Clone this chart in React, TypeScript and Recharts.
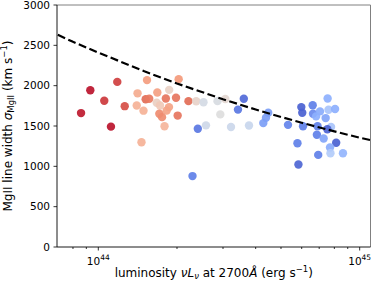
import React from 'react';
import {
  ScatterChart,
  Scatter,
  XAxis,
  YAxis,
  Cell,
  ReferenceLine,
} from 'recharts';

// luminosity nuL_nu at 2700A (erg/s) and MgII line width (km/s) for each object
const luminosity = [
  8.59e43, 9.32e43, 1.054e44, 1.118e44, 1.182e44, 1.262e44, 1.403e44, 1.413e44,
  1.463e44, 1.489e44, 1.536e44, 1.518e44, 1.566e44, 1.682e44, 1.673e44, 1.722e44,
  1.792e44, 1.813e44, 1.867e44, 1.827e44, 1.712e44, 1.753e44, 1.864e44, 2.012e44,
  2.03e44, 1.983e44, 2.213e44, 2.369e44, 2.526e44, 2.582e44, 2.403e44, 2.293e44,
  2.858e44, 3.061e44, 3.603e44, 3.423e44, 2.929e44, 3.219e44, 3.772e44, 4.467e44,
  4.381e44, 4.278e44, 5.318e44, 5.98e44, 6.03e44, 6.61e44, 6.63e44, 7.05e44,
  6.81e44, 7.54e44, 7.6e44, 8.05e44, 7.41e44, 6.07e44, 6.9e44, 7.77e44,
  7.52e44, 6.86e44, 7.28e44, 5.78e44, 8.13e44, 7.7e44, 8.63e44, 7.73e44,
  6.94e44, 5.83e44,
];

const sigma = [
  1660, 1943, 1813, 1492, 2047, 1746, 1755, 1905,
  1298, 1690, 2069, 1832, 1837, 1915, 1788, 1755,
  1496, 1841, 1948, 1693, 1652, 1610, 1734, 1629,
  2081, 1851, 1808, 1806, 1795, 1508, 1465, 879,
  1808, 1835, 1837, 1703, 1644, 1487, 1506, 1665,
  1603, 1536, 1514, 1734, 1665, 1758, 1652, 1681,
  1619, 1841, 1702, 1711, 1598, 1496, 1498, 1487,
  1459, 1391, 1345, 1286, 1292, 1233, 1163, 1163,
  1142, 1023,
];

// colour variable (0 = blue, 1 = red)
const colourValue = [
  0.97, 0.98, 0.93, 0.98, 0.92, 0.9, 0.68, 0.7,
  0.68, 0.68, 0.74, 0.85, 0.82, 0.73, 0.57, 0.6,
  0.67, 0.83, 0.56, 0.72, 0.78, 0.78, 0.72, 0.83,
  0.75, 0.83, 0.85, 0.55, 0.47, 0.45, 0.1, 0.12,
  0.48, 0.53, 0.07, 0.1, 0.5, 0.44, 0.43, 0.2,
  0.2, 0.2, 0.13, 0.05, 0.05, 0.12, 0.15, 0.24,
  0.25, 0.25, 0.33, 0.25, 0.22, 0.12, 0.12, 0.33,
  0.05, 0.12, 0.22, 0.12, 0.05, 0.24, 0.27, 0.36,
  0.12, 0.06,
];

// dashed relation
const relationL = [7e43, 8e43, 1e44, 1.5e44, 2e44, 3e44, 4e44, 5e44, 6e44, 8e44, 1e45, 1.1e45];
const relationSigma = [2630, 2544, 2410, 2178, 2027, 1831, 1704, 1612, 1540, 1433, 1355, 1325];

const xMajorTicks = [1e44, 1e45];
const xMinorTicks = [8e43, 9e43, 2e44, 3e44, 4e44, 5e44, 6e44, 7e44, 8e44, 9e44];
const yTicks = [0, 500, 1000, 1500, 2000, 2500, 3000];

const X_DOMAIN: [number, number] = [6.95e43, 1.1e45];

const FONT = '"DejaVu Sans", sans-serif';

const COOLWARM: [number, number, number][] = [
  [59, 76, 192],
  [98, 130, 234],
  [141, 176, 254],
  [184, 208, 249],
  [221, 221, 221],
  [245, 196, 173],
  [244, 154, 123],
  [222, 96, 77],
  [180, 4, 38],
];

function coolwarm(t: number) {
  const v = Math.max(0, Math.min(1, t)) * (COOLWARM.length - 1);
  const i = Math.min(Math.floor(v), COOLWARM.length - 2);
  const f = v - i;
  const a = COOLWARM[i];
  const b = COOLWARM[i + 1];
  const c = a.map((ch, k) => Math.round(ch + (b[k] - ch) * f));
  return `rgb(${c[0]},${c[1]},${c[2]})`;
}

const points = luminosity.map((x, i) => ({ x, y: sigma[i] }));
const relation = relationL.map((x, i) => ({ x, y: relationSigma[i] }));

const XTick = (props: any) => {
  const { x, y, payload } = props;
  const major = xMajorTicks.includes(payload.value);
  const exp = Math.round(Math.log10(payload.value));
  return (
    <g>
      <line x1={x} x2={x} y1={y} y2={y + (major ? 3.5 : 2)} stroke="#000" strokeWidth={0.8} />
      {major && (
        <text x={x} y={y + 17.5} textAnchor="middle" fontSize={10.5} fontFamily={FONT} fill="#000">
          <tspan>10</tspan>
          <tspan dy={-4.5} fontSize={7.5}>{exp}</tspan>
        </text>
      )}
    </g>
  );
};

const YTick = (props: any) => {
  const { x, y, payload } = props;
  return (
    <g>
      <line x1={x - 3.5} x2={x} y1={y} y2={y} stroke="#000" strokeWidth={0.8} />
      <text x={x - 7} y={y} dy={3.8} textAnchor="end" fontSize={10.5} fontFamily={FONT} fill="#000">
        {payload.value}
      </text>
    </g>
  );
};

const XLabel = (props: any) => {
  const vb = props.viewBox;
  const cx = vb.x + vb.width / 2;
  return (
    <text x={cx} y={276.5} textAnchor="middle" fontSize={12} fontFamily={FONT} fill="#000">
      <tspan>luminosity </tspan>
      <tspan fontStyle="italic">νL</tspan>
      <tspan dy={2.5} fontSize={8.5} fontStyle="italic">ν</tspan>
      <tspan dy={-2.5}> at 2700</tspan>
      <tspan fontStyle="italic">Å</tspan>
      <tspan> (erg s</tspan>
      <tspan dy={-5} fontSize={8.5}>−1</tspan>
      <tspan dy={5}>)</tspan>
    </text>
  );
};

const YLabel = (props: any) => {
  const vb = props.viewBox;
  const cy = vb.y + vb.height / 2;
  const lx = 11.5;
  return (
    <text
      x={lx}
      y={cy}
      transform={`rotate(-90, ${lx}, ${cy})`}
      textAnchor="middle"
      fontSize={12}
      fontFamily={FONT}
      fill="#000"
    >
      <tspan>MgII line width </tspan>
      <tspan fontStyle="italic">σ</tspan>
      <tspan dy={2.5} fontSize={8.5}>MgII</tspan>
      <tspan dy={-2.5}> (km s</tspan>
      <tspan dy={-5} fontSize={8.5}>−1</tspan>
      <tspan dy={5}>)</tspan>
    </text>
  );
};

export default function App() {
  return (
    <div style={{ position: 'absolute', left: 0, top: 0, width: 374, height: 288, background: '#fff' }}>
      <ScatterChart width={374} height={288} margin={{ top: 5, right: 3.5, left: 0, bottom: 0 }}>
        <XAxis
          type="number"
          dataKey="x"
          scale="log"
          domain={X_DOMAIN}
          allowDataOverflow
          ticks={[...xMinorTicks, ...xMajorTicks]}
          tick={<XTick />}
          tickLine={false}
          tickSize={0}
          tickMargin={0}
          interval={0}
          height={41}
          axisLine={{ stroke: '#000', strokeWidth: 0.9 }}
          label={{ content: <XLabel /> }}
        />
        <YAxis
          type="number"
          dataKey="y"
          domain={[0, 3000]}
          ticks={yTicks}
          tick={<YTick />}
          tickLine={false}
          tickSize={0}
          tickMargin={0}
          interval={0}
          width={57}
          axisLine={{ stroke: '#000', strokeWidth: 0.9 }}
          label={{ content: <YLabel /> }}
        />
        <ReferenceLine y={3000} stroke="#808080" strokeWidth={1} />
        <ReferenceLine x={X_DOMAIN[1]} stroke="#808080" strokeWidth={1} />
        <Scatter
          data={points}
          isAnimationActive={false}
          shape={(p: any) => <circle cx={p.cx} cy={p.cy} r={4.2} fill={p.fill} fillOpacity={0.92} />}
        >
          {points.map((_, i) => (
            <Cell key={i} fill={coolwarm(colourValue[i])} />
          ))}
        </Scatter>
        <Scatter
          data={relation}
          isAnimationActive={false}
          line={{ stroke: '#000', strokeWidth: 2.2, strokeDasharray: '8 3.5' }}
          shape={() => <g />}
        />
      </ScatterChart>
    </div>
  );
}
